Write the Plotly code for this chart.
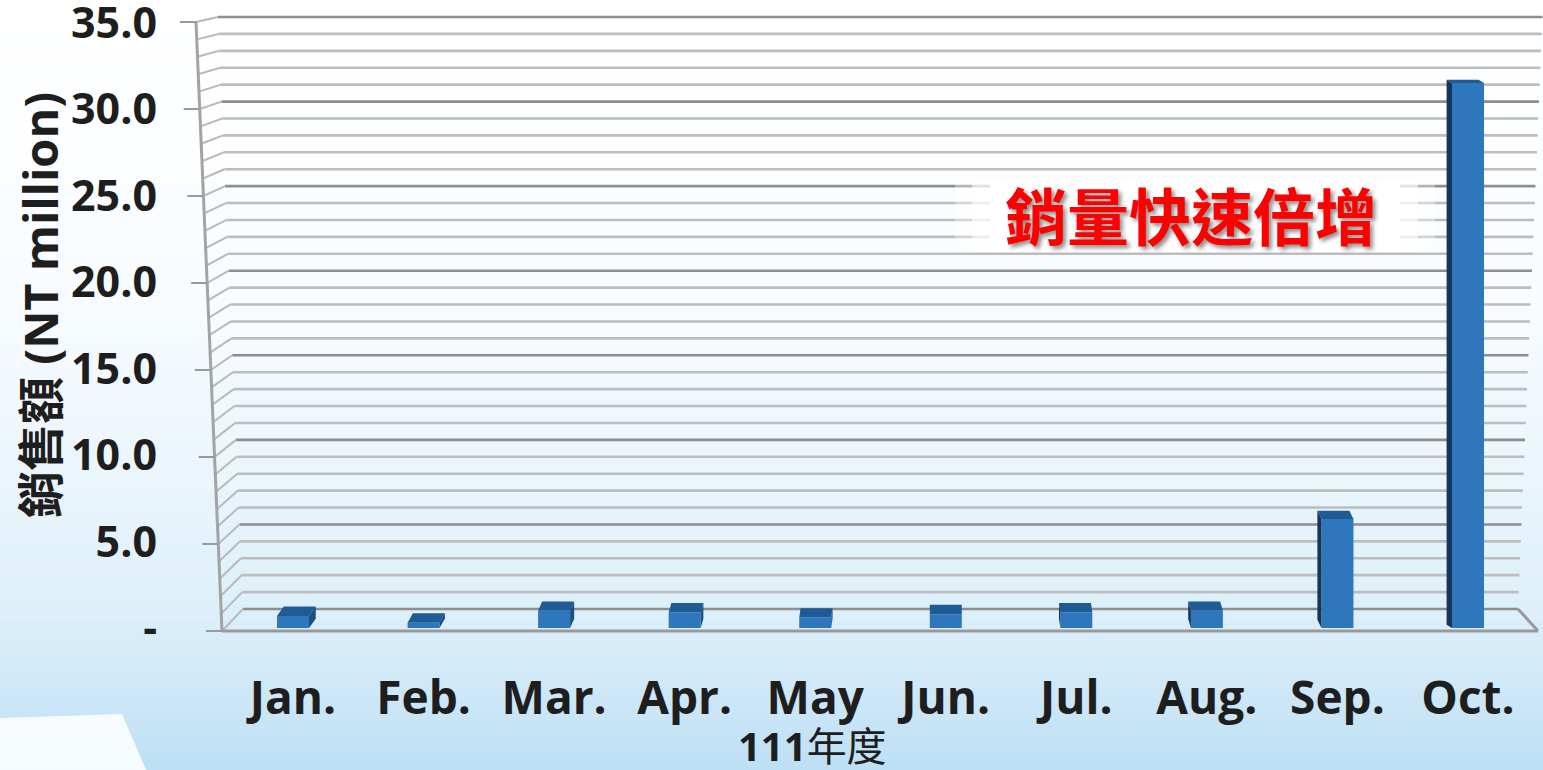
import plotly.graph_objects as go

# ---------------- data ----------------
months = ["Jan.", "Feb.", "Mar.", "Apr.", "May", "Jun.", "Jul.", "Aug.", "Sep.", "Oct."]
sales = [0.7, 0.3, 1.0, 0.9, 0.6, 0.8, 0.9, 1.0, 6.3, 31.5]
y_tick_vals = [0, 5, 10, 15, 20, 25, 30, 35]
y_tick_text = ["-", "5.0", "10.0", "15.0", "20.0", "25.0", "30.0", "35.0"]
grid_vals = list(range(0, 36))
y_title = "銷售額 (NT million)"
x_title = "<b>111</b>年度"
callout = "銷量快速倍增"

# ---------------- geometry (pixels) ----------------
W, H = 1543, 770
L, R, T, B = 222, 1535, 15, 631
FRONT_PX = 17.4        # px per unit on the front (slanted) axis
BACK_PX = 16.914       # px per unit on the back wall
BAR_PX = 17.3          # px per unit on the plotted axis
BAR_ZERO = 628         # pixel of value 0 on the plotted axis
CAT_PX = 130.56
X_LEFT = -(293 - L) / CAT_PX
X_RIGHT = 9 + (R - 1468) / CAT_PX


def px_x(p):
    return (p - L) / (R - L)


def px_y(p):
    return (B - p) / (B - T)


def xf(v):  # front axis x
    return 222 - 26 * v / 35


def yf(v):
    return 631 - FRONT_PX * v


def xb(v):  # back wall left x
    return 243 - 25 * v / 35


def yb(v):
    return 609 - BACK_PX * v


def xr(v):  # back wall right x
    return 1518 + 0.7 * v


shapes = []

# background gradient bands
stops = [(0, (255, 255, 255)), (300, (248, 252, 255)), (450, (237, 246, 252)),
         (600, (222, 240, 250)), (690, (207, 232, 247)), (770, (188, 223, 244))]


def bg_color(y):
    for (y0, c0), (y1, c1) in zip(stops[:-1], stops[1:]):
        if y0 <= y <= y1:
            t = (y - y0) / (y1 - y0)
            c = [round(a + (b - a) * t) for a, b in zip(c0, c1)]
            return "rgb(%d,%d,%d)" % tuple(c)
    return "rgb(188,223,244)"


step = 10
for y in range(0, H, step):
    shapes.append(dict(type="rect", xref="paper", yref="paper", layer="below",
                       x0=px_x(-2), x1=px_x(W + 2), y0=px_y(y + step + 1), y1=px_y(y),
                       fillcolor=bg_color(y + step / 2), line=dict(width=0)))

# white decoration bottom-left
shapes.append(dict(type="path", xref="paper", yref="paper", layer="below",
                   path="M%f,%f L%f,%f L%f,%f L%f,%f Z" % (
                       px_x(-2), px_y(718), px_x(122), px_y(714),
                       px_x(147), px_y(772), px_x(-2), px_y(772)),
                   fillcolor="rgba(255,255,255,0.85)", line=dict(width=0)))

# back wall grid + side wall diagonals
for v in grid_vals:
    major = (v % 5 == 0)
    col = "#8e8e8e" if major else "#bdbdbd"
    shapes.append(dict(type="line", xref="paper", yref="paper", layer="below",
                       x0=px_x(xb(v)), y0=px_y(yb(v)), x1=px_x(xr(v)), y1=px_y(yb(v)),
                       line=dict(color=col, width=2.6)))
    shapes.append(dict(type="line", xref="paper", yref="paper", layer="below",
                       x0=px_x(xf(v)), y0=px_y(yf(v)), x1=px_x(xb(v)), y1=px_y(yb(v)),
                       line=dict(color="#b9b9b9", width=2)))

# floor front edge and right edge
shapes.append(dict(type="line", xref="paper", yref="paper", layer="below",
                   x0=px_x(222), y0=px_y(631), x1=px_x(1538), y1=px_y(631),
                   line=dict(color="#999999", width=3)))
shapes.append(dict(type="line", xref="paper", yref="paper", layer="below",
                   x0=px_x(xr(0)), y0=px_y(yb(0)), x1=px_x(1538), y1=px_y(631),
                   line=dict(color="#999999", width=3)))
# front axis line
shapes.append(dict(type="line", xref="paper", yref="paper", layer="below",
                   x0=px_x(xf(0)), y0=px_y(yf(0)), x1=px_x(xf(35)), y1=px_y(yf(35)),
                   line=dict(color="#a3a3a3", width=3)))
# tick marks
for v in y_tick_vals:
    shapes.append(dict(type="line", xref="paper", yref="paper", layer="below",
                       x0=px_x(xf(v) - 16), y0=px_y(yf(v)), x1=px_x(xf(v)), y1=px_y(yf(v)),
                       line=dict(color="#9a9a9a", width=2)))

# white glow behind the callout
for x0, x1, op in [(955, 1435, 0.35), (972, 1418, 0.6), (990, 1400, 1.0)]:
    shapes.append(dict(type="rect", xref="paper", yref="paper", layer="below",
                       x0=px_x(x0), x1=px_x(x1), y0=px_y(252), y1=px_y(180),
                       fillcolor="rgba(255,255,255,%.2f)" % op, line=dict(width=0)))

# ---------------- traces ----------------
idx = list(range(len(months)))
bar_w = 32 / CAT_PX

top_x, top_y, rs_x, rs_y, ls_x, ls_y = [], [], [], [], [], []
for i, v in zip(idx, sales):
    sx = (5 - i) * 1.35 / CAT_PX
    sy = (9.5 - 0.2 * v) / BAR_PX
    x0, x1 = i - bar_w / 2, i + bar_w / 2
    top_x += [x0, x1, x1 + sx, x0 + sx, x0, None]
    top_y += [v, v, v + sy, v + sy, v, None]
    if sx > 0:
        rs_x += [x1, x1, x1 + sx, x1 + sx, x1, None]
        rs_y += [0, v, v + sy, sy, 0, None]
    elif sx < 0:
        ls_x += [x0, x0, x0 + sx, x0 + sx, x0, None]
        ls_y += [0, v, v + sy, sy, 0, None]

fig = go.Figure()
fig.add_trace(go.Bar(x=idx, y=sales, width=bar_w,
                     marker=dict(color="#2f77bc", line=dict(width=0)),
                     hoverinfo="x+y", showlegend=False))
for xs, ys, col in [(top_x, top_y, "#1f5c96"), (rs_x, rs_y, "#1d4f80"), (ls_x, ls_y, "#15365a")]:
    fig.add_trace(go.Scatter(x=xs, y=ys, mode="lines", fill="toself",
                             fillcolor=col, line=dict(width=0, color=col),
                             hoverinfo="skip", showlegend=False))

r0 = -(B - BAR_ZERO) / BAR_PX
y_range = [r0, r0 + (B - T) / BAR_PX]

fig.update_layout(
    width=W, height=H,
    margin=dict(l=L, r=W - R, t=T, b=H - B, autoexpand=False),
    paper_bgcolor="white", plot_bgcolor="rgba(0,0,0,0)",
    showlegend=False,
    font=dict(family="Open Sans, Noto Sans CJK TC", color="#1e1e1e"),
    xaxis=dict(range=[X_LEFT, X_RIGHT], tickvals=idx, ticktext=months,
               showgrid=False, zeroline=False, showline=False, ticks="",
               tickfont=dict(family="Open Sans", size=46, color="#1e1e1e", weight="bold"),
               ticklabelstandoff=36, automargin=False, fixedrange=True),
    yaxis=dict(range=y_range, tickvals=y_tick_vals, ticktext=y_tick_text,
               showgrid=False, zeroline=False, showline=False, ticks="",
               tickfont=dict(family="Open Sans", size=43, color="#1e1e1e", weight="bold"),
               ticklabelstandoff=64, ticklabeloverflow="allow", automargin=False,
               fixedrange=True),
    annotations=[
        dict(text="<b>%s</b>" % y_title, textangle=-90, xref="paper", yref="paper",
             x=px_x(40), y=px_y(305), xanchor="center", yanchor="middle", showarrow=False,
             font=dict(family="Open Sans, Noto Sans CJK TC", size=47, color="#1e1e1e")),
        dict(text=x_title, xref="paper", yref="paper",
             x=px_x(812), y=px_y(745), xanchor="center", yanchor="middle", showarrow=False,
             font=dict(family="Open Sans, Noto Sans CJK TC", size=40, color="#1e1e1e")),
        dict(text="<b>%s</b>" % callout, xref="paper", yref="paper",
             x=px_x(1191), y=px_y(214), xanchor="center", yanchor="middle", showarrow=False,
             font=dict(family="Noto Sans CJK TC", size=62, color="#ff0000",
                       shadow="3px 3px 4px rgba(0,0,0,0.45)")),
    ],
    shapes=shapes,
)

fig.write_html("out.html", config={"displayModeBar": False},
               post_script="document.body.style.margin='0px';")
